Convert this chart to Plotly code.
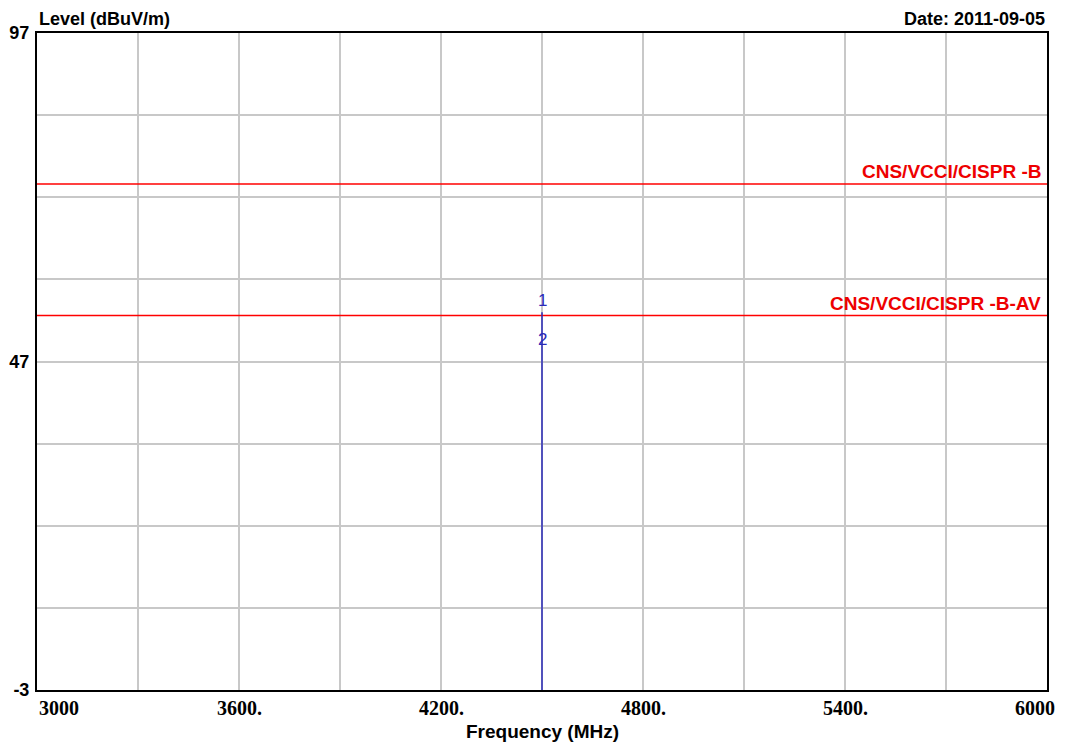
import plotly.graph_objects as go

# ---- data ----
freq_range = [3000, 6000]
level_range = [-3, 97]
limit_names = ["CNS/VCCI/CISPR -B", "CNS/VCCI/CISPR -B-AV"]
limit_levels = [74, 54]
marker_ids = ["1", "2"]
marker_freqs = [4500, 4500]
marker_levels = [54.5, 50.3]
x_grid = [3000, 3300, 3600, 3900, 4200, 4500, 4800, 5100, 5400, 5700, 6000]
x_tick_vals = [3000, 3600, 4200, 4800, 5400, 6000]
x_tick_text = ["3000", "3600.", "4200.", "4800.", "5400.", "6000"]
y_grid = [-3, 9.5, 22, 34.5, 47, 59.5, 72, 84.5, 97]
y_tick_text = ["-3", "", "", "", "47", "", "", "", "97"]

SANS = "Liberation Sans, Arial, sans-serif"
SERIF = "Liberation Serif, Times New Roman, serif"

fig = go.Figure()

for name, lvl in zip(limit_names, limit_levels):
    fig.add_trace(go.Scatter(x=freq_range, y=[lvl, lvl], mode="lines",
                             line=dict(color="#ff0000", width=1.5),
                             hoverinfo="skip", showlegend=False))

# marker spectral line
fig.add_trace(go.Scatter(x=[marker_freqs[0], marker_freqs[0]],
                         y=[level_range[0], max(marker_levels)], mode="lines",
                         line=dict(color="#2a2ab8", width=1.5),
                         hoverinfo="skip", showlegend=False))

ann = []
for name, lvl in zip(limit_names, limit_levels):
    ann.append(dict(x=freq_range[1], y=lvl, xref="x", yref="y", text=name,
                    xanchor="right", yanchor="bottom", xshift=-4, yshift=0,
                    showarrow=False,
                    font=dict(family=SANS, size=19, color="#ee0000", weight="bold")))

ann.append(dict(x=marker_freqs[0], y=marker_levels[0], xref="x", yref="y",
                text=marker_ids[0], xanchor="center", yanchor="bottom",
                showarrow=False, font=dict(family=SANS, size=17, color="#2a2ab8")))
ann.append(dict(x=marker_freqs[1], y=marker_levels[1], xref="x", yref="y",
                text=marker_ids[1], xanchor="center", yanchor="middle",
                showarrow=False, font=dict(family=SANS, size=17, color="#2a2ab8")))

for i, (v, t) in enumerate(zip(x_tick_vals, x_tick_text)):
    if i == 0:
        xa, xs = "left", 0
    elif i == len(x_tick_vals) - 1:
        xa, xs = "right", 10
    else:
        xa, xs = "center", 0
    ann.append(dict(x=v, y=0, xref="x", yref="paper", text=t, xanchor=xa,
                    yanchor="top", xshift=xs, yshift=-5, showarrow=False,
                    font=dict(family=SERIF, size=20, color="black", weight="bold")))

ann.append(dict(x=0, y=1, xref="paper", yref="paper", text="Level (dBuV/m)",
                xanchor="left", yanchor="bottom", yshift=2, showarrow=False,
                font=dict(family=SANS, size=18, color="black", weight="bold")))
ann.append(dict(x=1, y=1, xref="paper", yref="paper", text="Date: 2011-09-05",
                xanchor="right", yanchor="bottom", yshift=2, showarrow=False,
                font=dict(family=SANS, size=18, color="black", weight="bold")))
ann.append(dict(x=0.5, y=0, xref="paper", yref="paper", text="Frequency (MHz)",
                xanchor="center", yanchor="top", yshift=-29, showarrow=False,
                font=dict(family=SANS, size=19, color="black", weight="bold")))

fig.update_layout(
    width=1058, height=736,
    margin=dict(l=29, r=19, t=25, b=54),
    paper_bgcolor="white", plot_bgcolor="white",
    showlegend=False,
    annotations=ann,
    xaxis=dict(range=freq_range, tickvals=x_grid, showticklabels=False,
               showgrid=True, gridcolor="#c8c8c8", gridwidth=1.5,
               showline=True, linecolor="black", linewidth=2, mirror=True,
               zeroline=False, ticks="", automargin=False),
    yaxis=dict(range=level_range, tickvals=y_grid, ticktext=y_tick_text,
               showgrid=True, gridcolor="#c8c8c8", gridwidth=1.5,
               showline=True, linecolor="black", linewidth=2, mirror=True,
               zeroline=False, ticks="", ticklabelstandoff=2, automargin=False,
               tickfont=dict(family=SANS, size=18, color="black", weight="bold")),
)

fig.write_html("out.html")
